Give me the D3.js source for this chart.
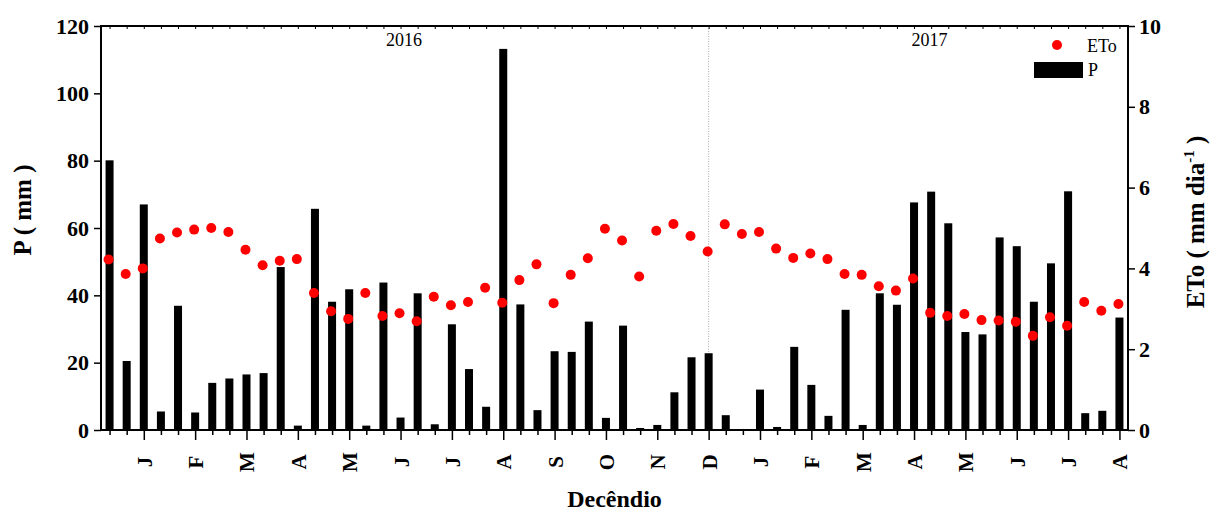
<!DOCTYPE html>
<html>
<head>
<meta charset="utf-8">
<script src="https://cdn.jsdelivr.net/npm/d3@7"></script>
<style>
  html, body { margin: 0; padding: 0; background: #fff; }
  svg { display: block; }
  svg text { font-family: "Liberation Serif", "Times New Roman", serif; }
</style>
</head>
<body>
<svg id="chart" width="1213" height="513"></svg>
<script>
// Ten-day periods (decêndios), Jan 2016 – Aug 2017
const monthLabels = ["J","F","M","A","M","J","J","A","S","O","N","D","J","F","M","A","M","J","J","A"];
const decendios = d3.range(1, 61);

// Rainfall P (mm) per decêndio
const precip = [
  80.1, 20.5, 67.0, 5.5, 36.9, 5.2, 14.0, 15.3, 16.5, 16.9,
  48.4, 1.3, 65.7, 38.1, 41.8, 1.3, 43.8, 3.7, 40.6, 1.7,
  31.4, 18.1, 6.9, 113.2, 37.3, 5.9, 23.4, 23.2, 32.2, 3.6,
  31.0, 0.6, 1.5, 11.2, 21.6, 22.8, 4.4, 0, 12.0, 0.9,
  24.7, 13.4, 4.2, 35.7, 1.5, 40.6, 37.2, 67.6, 70.8, 61.4,
  29.1, 28.4, 57.2, 54.6, 38.1, 49.5, 70.9, 5.0, 5.7, 33.4
];

// Reference evapotranspiration ETo (mm dia-1) per decêndio
const eto = [
  4.22, 3.86, 4.00, 4.74, 4.89, 4.96, 5.00, 4.90, 4.46, 4.08,
  4.19, 4.23, 3.39, 2.94, 2.75, 3.39, 2.82, 2.89, 2.69, 3.30,
  3.09, 3.17, 3.52, 3.15, 3.71, 4.10, 3.14, 3.84, 4.25, 4.98,
  4.69, 3.80, 4.93, 5.10, 4.80, 4.42, 5.09, 4.85, 4.90, 4.49,
  4.26, 4.37, 4.23, 3.86, 3.84, 3.56, 3.45, 3.75, 2.90, 2.82,
  2.87, 2.72, 2.71, 2.68, 2.33, 2.79, 2.58, 3.17, 2.95, 3.12
];

const pTicks = [0, 20, 40, 60, 80, 100, 120];
const etoTicks = [0, 2, 4, 6, 8, 10];
const years = [{ label: "2016", at: 18.2 }, { label: "2017", at: 48.9 }];
const yearDivider = 36;

const serif = "'Liberation Serif', 'Times New Roman', serif";
const svg = d3.select("#chart");
const m = { left: 101, right: 1128, top: 26, bottom: 430 };

const x = d3.scaleLinear().domain([0.5, 60.5]).range([m.left, m.right]);
const yP = d3.scaleLinear().domain([0, 120]).range([m.bottom, m.top]);
const yE = d3.scaleLinear().domain([0, 10]).range([m.bottom, m.top]);

// year divider
svg.append("line")
  .attr("x1", x(yearDivider)).attr("x2", x(yearDivider))
  .attr("y1", m.top).attr("y2", m.bottom)
  .attr("stroke", "#aaa").attr("stroke-width", 1)
  .attr("stroke-dasharray", "1,1.5");

// bars
const barW = 8;
svg.append("g").selectAll("rect")
  .data(decendios)
  .join("rect")
  .attr("x", d => x(d) - barW / 2)
  .attr("width", barW)
  .attr("y", (d, i) => yP(precip[i]))
  .attr("height", (d, i) => yP(0) - yP(precip[i]))
  .attr("fill", "#000");

// ETo points
svg.append("g").selectAll("circle")
  .data(decendios)
  .join("circle")
  .attr("cx", d => x(d) - 1)
  .attr("cy", (d, i) => yE(eto[i]))
  .attr("r", 5)
  .attr("fill", "#ff0000");

// bottom axis: minor tick every decêndio, major every 3rd
const axBottom = svg.append("g").attr("transform", `translate(0,${m.bottom})`);
axBottom.call(d3.axisBottom(x).tickValues(decendios).tickSize(5).tickFormat(""))
  .call(g => g.select(".domain").remove());
axBottom.selectAll(".tick line")
  .attr("y2", d => d % 3 === 0 ? 10 : 5)
  .attr("stroke", "#000").attr("stroke-width", 1.5);

// top frame with inward ticks
const axTop = svg.append("g").attr("transform", `translate(0,${m.top})`);
axTop.call(d3.axisTop(x).tickValues(decendios).tickSize(-3).tickFormat(""))
  .call(g => g.select(".domain").remove());
axTop.selectAll(".tick line").attr("stroke", "#000").attr("stroke-width", 1);

// month labels at each month's last decêndio
svg.append("g").selectAll("text")
  .data(monthLabels)
  .join("text")
  .attr("transform", (d, i) => `translate(${x((i + 1) * 3) + 1},462) rotate(-90)`)
  .attr("text-anchor", "middle")
  .attr("dominant-baseline", "central")
  .style("font-family", serif)
  .attr("font-size", 21)
  .attr("font-weight", "bold")
  .text(d => d);

// left axis
const axLeft = svg.append("g").attr("transform", `translate(${m.left},0)`);
axLeft.call(d3.axisLeft(yP).tickValues(pTicks).tickSize(7).tickPadding(5))
  .call(g => g.select(".domain").remove());
axLeft.selectAll(".tick line").attr("stroke-width", 1.5);
axLeft.selectAll(".tick text")
  .style("font-family", serif)
  .attr("font-size", 22).attr("font-weight", "bold");

// right axis
const axRight = svg.append("g").attr("transform", `translate(${m.right},0)`);
axRight.call(d3.axisRight(yE).tickValues(etoTicks).tickSize(7).tickPadding(4))
  .call(g => g.select(".domain").remove());
axRight.selectAll(".tick line").attr("stroke-width", 1.5);
axRight.selectAll(".tick text")
  .style("font-family", serif)
  .attr("font-size", 22).attr("font-weight", "bold");

// frame
svg.append("path")
  .attr("d", `M${m.left},${m.top}H${m.right}V${m.bottom}H${m.left}Z`)
  .attr("fill", "none").attr("stroke", "#000").attr("stroke-width", 2);

// year labels
svg.append("g").selectAll("text")
  .data(years)
  .join("text")
  .attr("x", d => x(d.at))
  .attr("y", 46)
  .attr("text-anchor", "middle")
  .style("font-family", serif)
  .attr("font-size", 18)
  .text(d => d.label);

// legend
const lg = svg.append("g").style("font-family", serif);
lg.append("circle").attr("cx", 1057).attr("cy", 45).attr("r", 5).attr("fill", "#ff0000");
lg.append("text").attr("x", 1087).attr("y", 52).attr("font-size", 18).text("ETo");
lg.append("rect").attr("x", 1034).attr("y", 62).attr("width", 49).attr("height", 16).attr("fill", "#000");
lg.append("text").attr("x", 1088).attr("y", 76).attr("font-size", 18).text("P");

// axis titles
svg.append("text")
  .attr("transform", "translate(31,210) rotate(-90)")
  .attr("text-anchor", "middle")
  .style("font-family", serif)
  .attr("font-size", 25).attr("font-weight", "bold")
  .text("P ( mm )");

const etoTitle = svg.append("text")
  .attr("transform", "translate(1204,222) rotate(-90)")
  .attr("text-anchor", "middle")
  .style("font-family", serif)
  .attr("font-size", 25).attr("font-weight", "bold");
etoTitle.append("tspan").text("ETo ( mm dia");
etoTitle.append("tspan").attr("font-size", 15).attr("dy", -10).text("-1");
etoTitle.append("tspan").attr("dy", 10).text(" )");

svg.append("text")
  .attr("x", (m.left + m.right) / 2)
  .attr("y", 507)
  .attr("text-anchor", "middle")
  .style("font-family", serif)
  .attr("font-size", 24).attr("font-weight", "bold")
  .text("Decêndio");
</script>
</body>
</html>
